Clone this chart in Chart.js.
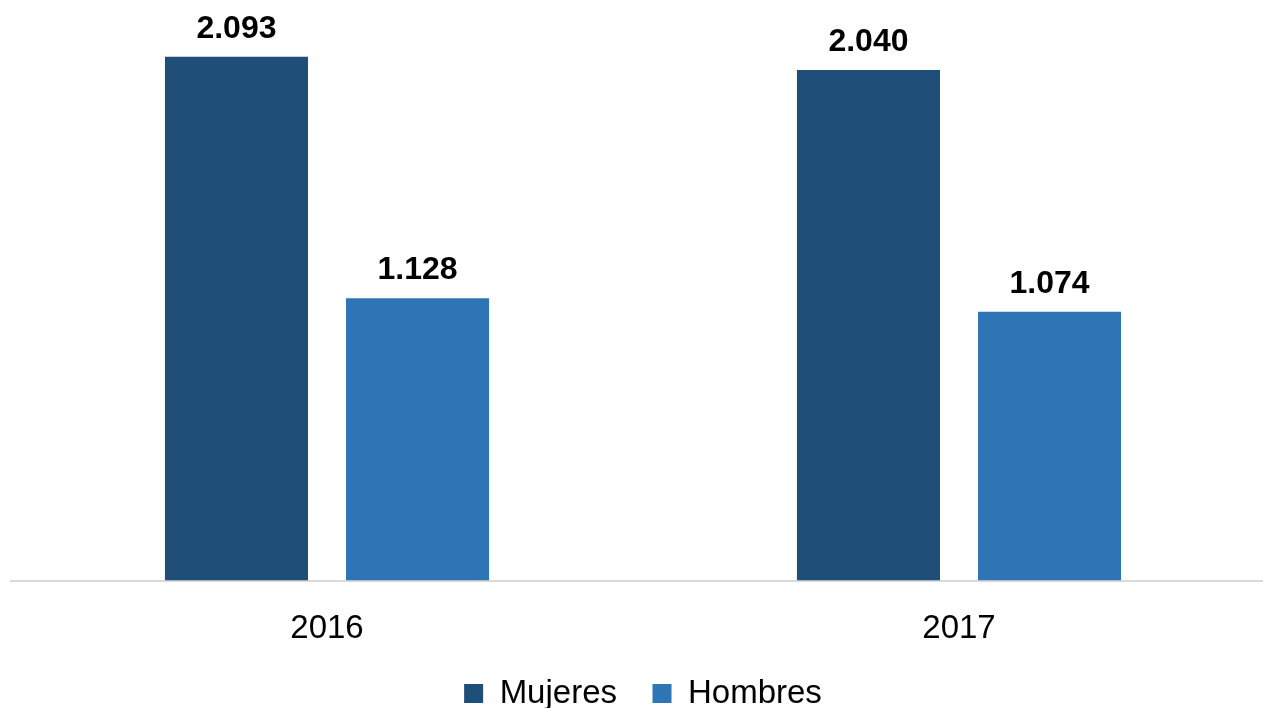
<!DOCTYPE html>
<html>
<head>
<meta charset="utf-8">
<script src="https://cdn.jsdelivr.net/npm/chart.js@4.4.0/dist/chart.umd.min.js"></script>
<style>
  html, body { margin: 0; padding: 0; background: #ffffff; overflow: hidden; }
  #wrap { width: 1290px; height: 720px; position: relative; }
</style>
</head>
<body>
<div id="wrap"><canvas id="barChart"></canvas></div>
<script>
// data
var years = ['2016', '2017'];
var mujeres = [2093, 2040];
var hombres = [1128, 1074];
var seriesNames = ['Mujeres', 'Hombres'];

function fmt(v) {
    // miles con punto
    return String(v).replace(/\B(?=(\d{3})+(?!\d))/g, '.');
}

// etiquetas encima de cada barra
var valueLabels = {
    id: 'valueLabels',
    afterDatasetsDraw: function (chart) {
        var ctx = chart.ctx;
        ctx.save();
        ctx.font = 'bold 32px "Liberation Sans", Arial, sans-serif';
        ctx.fillStyle = '#000000';
        ctx.textAlign = 'center';
        ctx.textBaseline = 'alphabetic';
        chart.data.datasets.forEach(function (ds, i) {
            chart.getDatasetMeta(i).data.forEach(function (bar, j) {
                ctx.fillText(fmt(ds.data[j]), bar.x, bar.y - 19);
            });
        });
        ctx.restore();
    }
};

var ctx = document.getElementById('barChart').getContext('2d');
var chart = new Chart(ctx, {
    type: 'bar',
    data: {
        labels: years,
        datasets: [{
            label: seriesNames[0],
            data: mujeres,
            backgroundColor: '#1f4e79'
        }, {
            label: seriesNames[1],
            data: hombres,
            backgroundColor: '#2e75b6'
        }]
    },
    options: {
        responsive: true,
        maintainAspectRatio: false,
        animation: false,
        layout: { padding: { top: 0, left: 11, right: 15, bottom: 0 } },
        datasets: {
            bar: { categoryPercentage: 0.573, barPercentage: 0.79 }
        },
        scales: {
            x: {
                grid: { display: false },
                border: { display: true, color: '#d9d9d9', width: 2 },
                ticks: {
                    color: '#000000',
                    padding: 27,
                    font: { family: '"Liberation Sans", Arial, sans-serif', size: 33, lineHeight: 0.8 }
                }
            },
            y: {
                display: false,
                min: 0,
                max: 2320
            }
        },
        plugins: {
            legend: {
                position: 'bottom',
                labels: {
                    color: '#000000',
                    boxWidth: 19,
                    boxHeight: 19,
                    padding: 8,
                    font: { family: '"Liberation Sans", Arial, sans-serif', size: 33 },
                    generateLabels: function (chart) {
                        var items = Chart.defaults.plugins.legend.labels.generateLabels(chart);
                        // wider gap between the two entries
                        items[0].text = items[0].text + '   ';
                        return items;
                    }
                }
            },
            tooltip: { enabled: false }
        }
    },
    plugins: [valueLabels]
});
</script>
</body>
</html>
